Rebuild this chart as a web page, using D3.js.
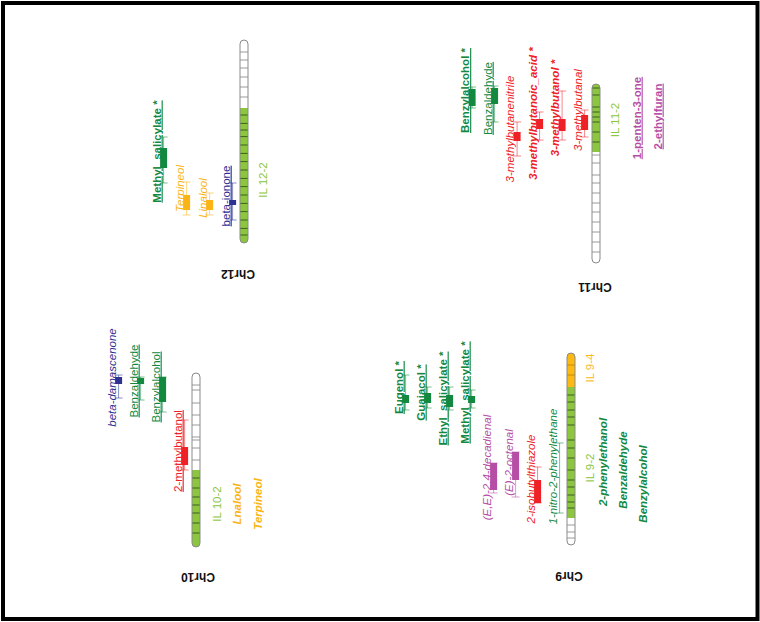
<!DOCTYPE html>
<html><head><meta charset="utf-8">
<script src="https://cdn.jsdelivr.net/npm/d3@7"></script>
<style>body{margin:0;background:#fff} text{font-family:"Liberation Sans",Arial,sans-serif}</style>
</head><body><svg id="c" width="760" height="622"></svg>
<script>
// ---------- data ----------
const chromosomes = ["Chr9", "Chr10", "Chr11", "Chr12"];
const chromLengths = [96, 87, 89.5, 101.5]; // cM

const introgressions = [
  {chrom: "Chr9",  line: "IL 9-4",  start: 0,    end: 17,    labelPos: 7.5},
  {chrom: "Chr9",  line: "IL 9-2",  start: 17,   end: 82.5,  labelPos: 57.5},
  {chrom: "Chr10", line: "IL 10-2", start: 48.5, end: 87,    labelPos: 65.5},
  {chrom: "Chr11", line: "IL 11-2", start: 0,    end: 34,    labelPos: 18},
  {chrom: "Chr12", line: "IL 12-2", start: 34,   end: 101.5, labelPos: 70}
];

const markersChr9  = [6, 11, 21, 24.5, 28.5, 32, 36, 43.5, 47.5, 52.5, 58.5, 63.5, 67, 71, 74.5, 77.5, 86, 89.5, 92.5];
const markersChr10 = [6, 8.5, 15, 21, 26, 32, 33.5, 37.5, 43.5, 52.5, 57.5, 62, 66, 70, 75, 80];
const markersChr11 = [2, 5.5, 11.5, 14, 16.5, 19, 24, 29, 35.5, 39.5, 45.5, 49.5, 54.5, 59.5, 64, 69, 74, 79, 84];
const markersChr12 = [6, 10, 14, 18.5, 23.5, 28.5, 37.5, 41.7, 45, 48.3, 52.5, 56.7, 60.8, 65, 69.2, 73.3, 77.5, 81.7, 85.8, 90, 94.2, 97.5];

// QTLs: lod1 = box interval, lod2 = whisker interval, pos = label centre (cM)
const qtls = [
  {chrom: "Chr10", trait: "beta-damascenone", group: "carotenoid", effect: "down", sig: false, lod1: [2, 5.5],   lod2: [1, 12.5],   pos: 2.25},
  {chrom: "Chr10", trait: "Benzaldehyde",     group: "benzenoid",  effect: "up",   sig: false, lod1: [2.5, 5.5], lod2: [2, 13.5],   pos: 4},
  {chrom: "Chr10", trait: "Benzylalcohol",    group: "benzenoid",  effect: "up",   sig: false, lod1: [2, 14.5],  lod2: [2, 19.5],   pos: 7},
  {chrom: "Chr10", trait: "2-methylbutanol",  group: "amino",      effect: "up",   sig: false, lod1: [37, 46],   lod2: [23.5, 48.5], pos: 39},

  {chrom: "Chr12", trait: "Methyl_salicylate *", group: "benzenoid", effect: "up", sig: true,  lod1: [54, 64],   lod2: [48.5, 71.5], pos: 55.75},
  {chrom: "Chr12", trait: "Terpineol",   group: "terpenoid",  effect: "down", sig: false, lod1: [77.5, 85], lod2: [71, 87.5],   pos: 74.25},
  {chrom: "Chr12", trait: "Linalool",    group: "terpenoid",  effect: "down", sig: false, lod1: [80, 85],   lod2: [76.5, 87.5], pos: 79},
  {chrom: "Chr12", trait: "beta-ionone", group: "carotenoid", effect: "up",   sig: false, lod1: [80, 82.5], lod2: [71.5, 90],   pos: 78},

  {chrom: "Chr11", trait: "Benzylalcohol *",         group: "benzenoid", effect: "up",   sig: true,  lod1: [2.5, 11],   lod2: [1.5, 12], pos: 3.25},
  {chrom: "Chr11", trait: "Benzaldehyde",            group: "benzenoid", effect: "up",   sig: false, lod1: [2, 10],     lod2: [1, 19],   pos: 7.25},
  {chrom: "Chr11", trait: "3-methylbutanenitrile",   group: "amino",     effect: "down", sig: false, lod1: [24, 28.5],  lod2: [19, 36],  pos: 22.5},
  {chrom: "Chr11", trait: "3-methylbutanoic_acid *", group: "amino",     effect: "down", sig: true,  lod1: [17.5, 22.5], lod2: [14, 28], pos: 14.75},
  {chrom: "Chr11", trait: "3-methylbutanol *",       group: "amino",     effect: "down", sig: true,  lod1: [17.5, 23.5], lod2: [3.5, 28], pos: 12},
  {chrom: "Chr11", trait: "3-methylbutanal",         group: "amino",     effect: "down", sig: false, lod1: [15.5, 23],  lod2: [13, 26.5], pos: 13},

  {chrom: "Chr9", trait: "Eugenol *",            group: "benzenoid", effect: "up",   sig: true,  lod1: [21, 25],     lod2: [11, 28.5],   pos: 17.25},
  {chrom: "Chr9", trait: "Guaiacol *",           group: "benzenoid", effect: "up",   sig: true,  lod1: [20, 25],     lod2: [17, 27.5],   pos: 19.75},
  {chrom: "Chr9", trait: "Ethyl_salicylate *",   group: "benzenoid", effect: "up",   sig: true,  lod1: [21, 27],     lod2: [17, 28.5],   pos: 22.75},
  {chrom: "Chr9", trait: "Methyl_salicylate *",  group: "benzenoid", effect: "up",   sig: true,  lod1: [21.5, 25],   lod2: [18.5, 27.5], pos: 19.75},
  {chrom: "Chr9", trait: "(E,E)-2,4-decadienal", group: "lipid",     effect: "down", sig: false, lod1: [55, 68.5],   lod2: [55, 70],     pos: 57.25},
  {chrom: "Chr9", trait: "(E)-2-octenal",        group: "lipid",     effect: "down", sig: false, lod1: [49.5, 63.5], lod2: [49.5, 72],   pos: 54.75},
  {chrom: "Chr9", trait: "2-isobutylthiazole",   group: "amino",     effect: "down", sig: false, lod1: [63.5, 75],   lod2: [57, 75],     pos: 63},
  {chrom: "Chr9", trait: "1-nitro-2-phenylethane", group: "benzenoid", effect: "down", sig: false, lod1: null,       lod2: [45, 80],     pos: 56.75}
];

// traits listed beside the introgression lines
const lineTraits = [
  {chrom: "Chr10", trait: "Lnalool",         group: "terpenoid", effect: "down", pos: 65.5},
  {chrom: "Chr10", trait: "Terpineol",       group: "terpenoid", effect: "down", pos: 65.5},
  {chrom: "Chr11", trait: "1-penten-3-one",  group: "lipid",     effect: "up",   pos: 17},
  {chrom: "Chr11", trait: "2-ethylfuran",    group: "lipid",     effect: "up",   pos: 16.25},
  {chrom: "Chr9",  trait: "2-phenylethanol", group: "benzenoid", effect: "down", pos: 54.5},
  {chrom: "Chr9",  trait: "Benzaldehyde",    group: "benzenoid", effect: "down", pos: 58.5},
  {chrom: "Chr9",  trait: "Benzylalcohol",   group: "benzenoid", effect: "down", pos: 65.5}
];

// ---------- layout & style ----------
const layout = {
  Chr9:  {x: 567, top: 353, gap: 22,   right: [18.6, 31.6, 51.6, 71.6], label: [569, 572]},
  Chr10: {x: 192, top: 373, gap: 22,   right: [20.6, 40.6, 61.6],       label: [198, 573]},
  Chr11: {x: 592, top: 84,  gap: 22.5, right: [18.6, 40.6, 61.6],       label: [595, 283]},
  Chr12: {x: 240, top: 40,  gap: 23,   right: [18.6],                   label: [238, 270]}
};
const markers = {Chr9: markersChr9, Chr10: markersChr10, Chr11: markersChr11, Chr12: markersChr12};
const PX_PER_CM = 2, BAR_W = 8, BOX_W = 7, FONT = 11.5;

const groupColor = d3.scaleOrdinal()
  .domain(["benzenoid", "amino", "carotenoid", "terpenoid", "lipid"])
  .range(["#13883f", "#ee2226", "#2e3092", "#fbb416", "#b64ea6"]);
const lineColor = d3.scaleOrdinal()
  .domain(["IL 9-4", "IL 9-2", "IL 10-2", "IL 11-2", "IL 12-2"])
  .range(["#fdb913", "#8cc63f", "#8cc63f", "#8cc63f", "#8cc63f"]);
const tickColor = c => c === "#fdb913" ? "#c68a00" : "#3f5f22";

const svg = d3.select("#c");
// frame
svg.append("rect").attr("x", 3).attr("y", 3).attr("width", 754.5).attr("height", 616)
  .attr("fill", "none").attr("stroke", "#000").attr("stroke-width", 4);

chromosomes.forEach((name, ci) => {
  const L = layout[name], len = chromLengths[ci];
  const y = d3.scaleLinear().domain([0, len]).range([L.top, L.top + len * PX_PER_CM]);
  const g = svg.append("g");
  const clipId = "clip" + name;
  svg.append("clipPath").attr("id", clipId).append("rect")
    .attr("x", L.x).attr("y", y(0)).attr("width", BAR_W).attr("height", y(len) - y(0)).attr("rx", 4).attr("ry", 4);

  const bar = g.append("g").attr("clip-path", `url(#${clipId})`);
  bar.append("rect").attr("x", L.x).attr("y", y(0)).attr("width", BAR_W).attr("height", y(len) - y(0)).attr("fill", "#fff");
  const segs = introgressions.filter(d => d.chrom === name);
  bar.selectAll("rect.seg").data(segs).join("rect").attr("class", "seg")
    .attr("x", L.x).attr("y", d => y(d.start)).attr("width", BAR_W).attr("height", d => y(d.end) - y(d.start))
    .attr("fill", d => lineColor(d.line));
  const segOf = p => segs.find(s => p >= s.start && p <= s.end);
  bar.selectAll("line.mk").data(markers[name]).join("line").attr("class", "mk")
    .attr("x1", L.x).attr("x2", L.x + BAR_W).attr("y1", d => y(d)).attr("y2", d => y(d))
    .attr("stroke", d => { const s = segOf(d); return s ? tickColor(lineColor(s.line)) : "#9a9a9a"; })
    .attr("stroke-width", 1);
  g.append("rect").attr("x", L.x).attr("y", y(0)).attr("width", BAR_W).attr("height", y(len) - y(0))
    .attr("rx", 4).attr("ry", 4).attr("fill", "none").attr("stroke", "#8a8a8a").attr("stroke-width", 1);

  // chromosome name (upside down)
  g.append("text").attr("transform", `translate(${L.label[0]},${L.label[1]}) rotate(180)`)
    .attr("text-anchor", "middle").attr("font-size", 12).attr("font-weight", "bold").attr("fill", "#111").text(name);

  // QTLs on the left
  const qs = qtls.filter(d => d.chrom === name);
  const n = qs.length;
  qs.forEach((q, i) => {
    const bx = L.x - 10.4 - (n - 1 - i) * L.gap;
    const col = groupColor(q.group);
    g.append("text").attr("transform", `translate(${bx},${y(q.pos)}) rotate(-90)`)
      .attr("text-anchor", "middle").attr("font-size", FONT)
      .attr("font-weight", q.sig ? "bold" : "normal")
      .attr("font-style", q.effect === "down" ? "italic" : "normal")
      .style("text-decoration", q.effect === "up" ? "underline" : "none")
      .attr("fill", col).text(q.trait);
    const wx = bx + BOX_W / 2 - 0.5;
    const wg = g.append("g").attr("stroke", col).attr("stroke-opacity", 0.55).attr("stroke-width", 1);
    wg.append("line").attr("x1", wx).attr("x2", wx).attr("y1", y(q.lod2[0])).attr("y2", y(q.lod2[1]));
    q.lod2.forEach(p => wg.append("line").attr("x1", bx - 1).attr("x2", bx + BOX_W).attr("y1", y(p)).attr("y2", y(p)));
    if (q.lod1) {
      g.append("rect").attr("x", bx - 0.5).attr("y", y(q.lod1[0])).attr("width", BOX_W)
        .attr("height", y(q.lod1[1]) - y(q.lod1[0])).attr("fill", col);
    }
  });

  // labels on the right: line names (column 0) and traits
  segs.forEach(s => {
    g.append("text").attr("transform", `translate(${L.x + BAR_W + L.right[0]},${y(s.labelPos)}) rotate(-90)`)
      .attr("text-anchor", "middle").attr("font-size", FONT).attr("fill", lineColor(s.line)).text(s.line);
  });
  lineTraits.filter(d => d.chrom === name).forEach((t, i) => {
    g.append("text").attr("transform", `translate(${L.x + BAR_W + L.right[i + 1]},${y(t.pos)}) rotate(-90)`)
      .attr("text-anchor", "middle").attr("font-size", FONT).attr("font-weight", "bold")
      .attr("font-style", t.effect === "down" ? "italic" : "normal")
      .style("text-decoration", t.effect === "up" ? "underline" : "none")
      .attr("fill", groupColor(t.group)).text(t.trait);
  });
});
</script></body></html>
